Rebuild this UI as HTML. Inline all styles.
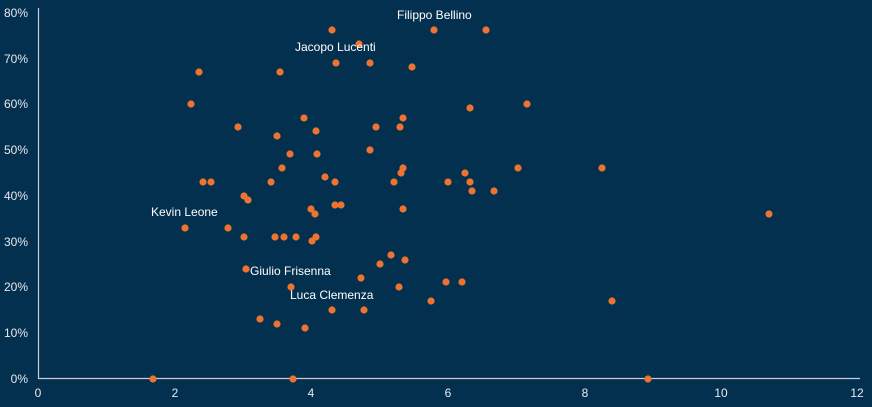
<!DOCTYPE html>
<html><head><style>
body{margin:0;background:#04304f;}
svg{display:block;font-family:"Liberation Sans",sans-serif;}
</style></head><body>
<svg width="872" height="407" viewBox="0 0 872 407">
<rect width="872" height="407" fill="#04304f"/>
<g stroke="#c8ccd2" stroke-width="1.2"><line x1="38.5" y1="8" x2="38.5" y2="379"/><line x1="38" y1="378.5" x2="860" y2="378.5"/></g>
<g fill="#e6eaee" font-size="12" text-anchor="end">
<text x="28" y="383">0%</text><text x="28" y="337">10%</text><text x="28" y="291">20%</text><text x="28" y="246">30%</text><text x="28" y="200">40%</text><text x="28" y="154">50%</text><text x="28" y="108">60%</text><text x="28" y="63">70%</text><text x="28" y="17">80%</text>
</g>
<g fill="#e6eaee" font-size="12" text-anchor="middle">
<text x="38" y="397">0</text><text x="175" y="397">2</text><text x="311" y="397">4</text><text x="448" y="397">6</text><text x="585" y="397">8</text><text x="721" y="397">10</text><text x="857" y="397">12</text>
</g>
<g fill="#ec7330">
<circle cx="332" cy="30" r="3.6"/><circle cx="434" cy="30" r="3.6"/><circle cx="486" cy="30" r="3.6"/><circle cx="359" cy="44" r="3.6"/><circle cx="336" cy="63" r="3.6"/><circle cx="370" cy="63" r="3.6"/><circle cx="412" cy="67" r="3.6"/><circle cx="199" cy="72" r="3.6"/><circle cx="280" cy="72" r="3.6"/><circle cx="191" cy="104" r="3.6"/><circle cx="470" cy="108" r="3.6"/><circle cx="527" cy="104" r="3.6"/><circle cx="238" cy="127" r="3.6"/><circle cx="304" cy="118" r="3.6"/><circle cx="376" cy="127" r="3.6"/><circle cx="403" cy="118" r="3.6"/><circle cx="277" cy="136" r="3.6"/><circle cx="316" cy="131" r="3.6"/><circle cx="400" cy="127" r="3.6"/><circle cx="290" cy="154" r="3.6"/><circle cx="317" cy="154" r="3.6"/><circle cx="370" cy="150" r="3.6"/><circle cx="282" cy="168" r="3.6"/><circle cx="403" cy="168" r="3.6"/><circle cx="401" cy="173" r="3.6"/><circle cx="465" cy="173" r="3.6"/><circle cx="518" cy="168" r="3.6"/><circle cx="602" cy="168" r="3.6"/><circle cx="325" cy="177" r="3.6"/><circle cx="203" cy="182" r="3.6"/><circle cx="211" cy="182" r="3.6"/><circle cx="271" cy="182" r="3.6"/><circle cx="335" cy="182" r="3.6"/><circle cx="394" cy="182" r="3.6"/><circle cx="448" cy="182" r="3.6"/><circle cx="470" cy="182" r="3.6"/><circle cx="472" cy="191" r="3.6"/><circle cx="494" cy="191" r="3.6"/><circle cx="244" cy="196" r="3.6"/><circle cx="248" cy="200" r="3.6"/><circle cx="311" cy="209" r="3.6"/><circle cx="315" cy="214" r="3.6"/><circle cx="335" cy="205" r="3.6"/><circle cx="341" cy="205" r="3.6"/><circle cx="403" cy="209" r="3.6"/><circle cx="769" cy="214" r="3.6"/><circle cx="185" cy="228" r="3.6"/><circle cx="228" cy="228" r="3.6"/><circle cx="244" cy="237" r="3.6"/><circle cx="275" cy="237" r="3.6"/><circle cx="284" cy="237" r="3.6"/><circle cx="296" cy="237" r="3.6"/><circle cx="312" cy="241" r="3.6"/><circle cx="316" cy="237" r="3.6"/><circle cx="391" cy="255" r="3.6"/><circle cx="380" cy="264" r="3.6"/><circle cx="405" cy="260" r="3.6"/><circle cx="246" cy="269" r="3.6"/><circle cx="361" cy="278" r="3.6"/><circle cx="446" cy="282" r="3.6"/><circle cx="462" cy="282" r="3.6"/><circle cx="291" cy="287" r="3.6"/><circle cx="399" cy="287" r="3.6"/><circle cx="431" cy="301" r="3.6"/><circle cx="612" cy="301" r="3.6"/><circle cx="260" cy="319" r="3.6"/><circle cx="277" cy="324" r="3.6"/><circle cx="332" cy="310" r="3.6"/><circle cx="364" cy="310" r="3.6"/><circle cx="305" cy="328" r="3.6"/><circle cx="153" cy="379" r="3.6"/><circle cx="293" cy="379" r="3.6"/><circle cx="648" cy="379" r="3.6"/>
</g>
<g fill="#ffffff" font-size="12">
<text x="397" y="19">Filippo Bellino</text>
<text x="295" y="51">Jacopo Lucenti</text>
<text x="151" y="216">Kevin Leone</text>
<text x="250" y="275">Giulio Frisenna</text>
<text x="290" y="299">Luca Clemenza</text>
</g>
</svg>
</body></html>
